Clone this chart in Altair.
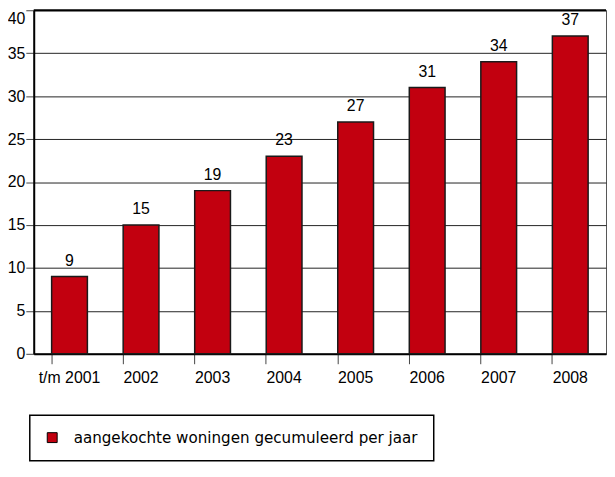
import altair as alt
import pandas as pd

years = ["t/m 2001", "2002", "2003", "2004", "2005", "2006", "2007", "2008"]
values = [9, 15, 19, 23, 27, 31, 34, 37]
series_name = "aangekochte woningen gecumuleerd per jaar"
y_ticks = [0, 5, 10, 15, 20, 25, 30, 35, 40]
y_max = [40]

df = pd.DataFrame({"jaar": years, "aantal": values, "reeks": [series_name] * len(years)})
top_df = pd.DataFrame({"y": y_max})

W, H = 578, 347

x_enc = alt.X(
    "jaar:N",
    sort=years,
    scale=alt.Scale(paddingInner=0.5, paddingOuter=0.25),
    axis=alt.Axis(
        title=None,
        labelAngle=0,
        bandPosition=0,
        tickSize=10,
        labelPadding=6,
        domainColor="black",
        domainWidth=2,
        tickColor="#444",
        tickWidth=1,
        grid=False,
    ),
)
y_enc = alt.Y(
    "aantal:Q",
    scale=alt.Scale(domain=[0, 40], nice=False),
    axis=alt.Axis(
        title=None,
        values=y_ticks,
        tickSize=8,
        labelPadding=1,
        domainColor="black",
        domainWidth=2,
        tickColor="#444",
        grid=True,
        gridColor="#222",
        gridWidth=1,
        labelBaseline={"condition": {"test": "datum.value == 40", "value": "top"}, "value": "middle"},
    ),
)

bars = alt.Chart(df).mark_bar(stroke="#1a1a1a", strokeWidth=1.5).encode(
    x=x_enc,
    y=y_enc,
    color=alt.Color(
        "reeks:N",
        scale=alt.Scale(domain=[series_name], range=["#C2000F"]),
        legend=alt.Legend(
            title=None,
            orient="none",
            legendX=-4,
            legendY=409,
            padding=15,
            strokeColor="black",
            symbolType="square",
            symbolSize=100,
            symbolStrokeColor="black",
            symbolStrokeWidth=1,
            labelFont="DejaVu Sans",
            labelFontSize=15.3,
            labelColor="black",
            labelOffset=14,
            labelLimit=0,
        ),
    ),
)

labels = alt.Chart(df).mark_text(
    baseline="alphabetic", dy=-11, font="Liberation Sans", fontSize=16, color="black"
).encode(x=alt.X("jaar:N", sort=years), y="aantal:Q", text="aantal:Q")

top_rule = alt.Chart(top_df).mark_rule(color="black", strokeWidth=2).encode(y="y:Q")

chart = (
    alt.layer(bars, labels, top_rule)
    .properties(
        width=W,
        height=H,
        autosize=alt.AutoSizeParams(type="none"),
        padding={"left": 26, "top": 0, "right": 1, "bottom": 108},
    )
    .configure_view(stroke="#555", strokeWidth=1)
    .configure_axis(labelFont="Liberation Sans", labelFontSize=16, labelColor="black")
    .configure_legend(strokeWidth=1.5)
)

chart.save("out.html", embed_options={"renderer": "svg", "actions": False})
